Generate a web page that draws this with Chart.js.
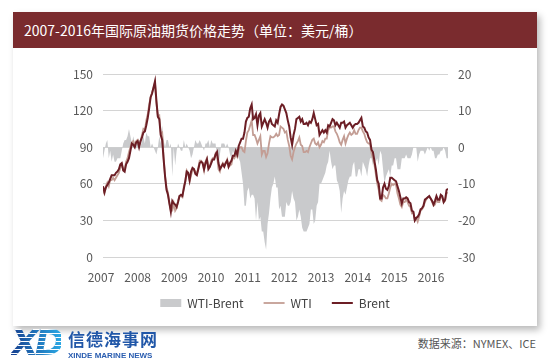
<!DOCTYPE html>
<html>
<head>
<meta charset="utf-8">
<script src="https://cdn.jsdelivr.net/npm/chart.js@4.4.0/dist/chart.umd.min.js"></script>
<style>
  html, body { margin: 0; padding: 0; background: #fff; width: 554px; height: 364px; overflow: hidden;
    font-family: "Noto Sans CJK SC", "Noto Sans", sans-serif; }
  .card { position: absolute; left: 13px; top: 12px; width: 524px; height: 314px; background: #fff;
    box-shadow: 3px 4px 7px rgba(0, 0, 0, 0.28); }
  .title { height: 36px; line-height: 36px; background: #7a2b2e; color: #fff; font-size: 14px; padding-left: 11px; }
  .chart-box { position: relative; width: 524px; height: 278px; }
  .logo-xd { position: absolute; left: 11px; top: 322px; font: italic 900 36px "DejaVu Sans", sans-serif;
    letter-spacing: -4px; color: transparent;
    background: repeating-linear-gradient(180deg, rgba(255,255,255,0) 0 3px, #fff 3px 4px),
                linear-gradient(90deg, #163f8f, #2aa8e4);
    -webkit-background-clip: text; background-clip: text; }
  .logo-cn { position: absolute; left: 68px; top: 326px; font-size: 17px; font-weight: bold; color: #2157a8;
    letter-spacing: 1px; }
  .logo-en { position: absolute; left: 68px; top: 351px; font: bold 8px "Liberation Sans", sans-serif; color: #2a5db0; }
  .source { position: absolute; right: 18px; top: 335px; font-size: 11px; color: #555; }
</style>
</head>
<body>
<div class="card">
  <div class="title">2007-2016年国际原油期货价格走势（单位：美元/桶）</div>
  <div class="chart-box"><canvas id="oilChart"></canvas></div>
</div>
<div class="logo-xd">XD</div>
<div class="logo-cn">信德海事网</div>
<div class="logo-en">XINDE MARINE NEWS</div>
<div class="source">数据来源：NYMEX、ICE</div>

<script>
// half-month readings, Jan 2007 .. Dec 2016 (24 per year)
const brent = [
  58, 53, 57, 59, 61, 64, 67, 67, 67, 69, 70, 72, 76, 77, 71, 70, 76, 78, 81, 87, 93, 92, 90, 94,
  95, 90, 95, 98, 102, 103, 108, 114, 122, 131, 134, 139, 144, 128, 115, 113, 100, 96, 80, 66, 55, 51, 44, 37,
  46, 44, 43, 41, 45, 50, 51, 50, 56, 62, 70, 69, 63, 70, 73, 72, 68, 67, 72, 77, 78, 77, 72, 77,
  80, 72, 74, 77, 80, 80, 84, 86, 77, 72, 74, 76, 74, 77, 79, 74, 77, 79, 83, 83, 87, 84, 91, 94,
  97, 97, 102, 111, 114, 115, 122, 125, 113, 114, 117, 108, 116, 118, 107, 110, 113, 110, 106, 111, 113, 109, 108, 107,
  112, 110, 117, 123, 125, 124, 121, 118, 112, 107, 98, 92, 100, 105, 113, 114, 115, 111, 113, 109, 109, 110, 108, 111,
  110, 113, 118, 113, 108, 109, 100, 102, 104, 102, 104, 102, 108, 107, 110, 113, 112, 108, 110, 108, 106, 110, 110, 111,
  106, 108, 109, 110, 108, 106, 108, 109, 109, 110, 112, 114, 107, 106, 103, 102, 98, 96, 88, 86, 79, 72, 63, 60,
  48, 48, 57, 60, 56, 55, 58, 65, 65, 64, 63, 62, 58, 54, 49, 44, 48, 48, 49, 48, 45, 44, 38, 37,
  30, 32, 33, 35, 39, 40, 42, 47, 48, 49, 50, 48, 46, 43, 46, 50, 47, 47, 51, 50, 45, 47, 55, 56
];

const wti = [
  55, 52, 58, 61, 58, 63, 63, 65, 63, 65, 67, 69, 73, 76, 72, 72, 78, 81, 86, 90, 94, 95, 91, 95,
  96, 91, 95, 100, 105, 104, 112, 117, 125, 131, 135, 139, 143, 126, 115, 116, 101, 102, 82, 66, 57, 53, 44, 38,
  38, 44, 38, 40, 46, 50, 50, 49, 58, 62, 71, 69, 62, 67, 71, 72, 70, 68, 73, 79, 79, 77, 71, 78,
  81, 74, 74, 79, 81, 81, 85, 83, 72, 70, 75, 77, 75, 77, 80, 74, 75, 76, 82, 81, 84, 82, 88, 90,
  90, 87, 86, 95, 102, 104, 108, 112, 100, 100, 97, 93, 96, 99, 84, 87, 87, 82, 85, 93, 99, 98, 98, 99,
  101, 99, 100, 107, 106, 105, 102, 103, 96, 91, 83, 80, 86, 90, 93, 95, 98, 92, 91, 86, 86, 87, 86, 90,
  93, 96, 97, 93, 92, 94, 90, 92, 95, 94, 97, 97, 104, 106, 106, 107, 107, 103, 101, 98, 94, 92, 96, 99,
  93, 97, 100, 102, 100, 101, 104, 101, 101, 104, 106, 106, 103, 101, 97, 94, 93, 93, 85, 81, 76, 68, 60, 55,
  47, 46, 51, 50, 48, 48, 52, 57, 60, 59, 60, 59, 52, 48, 43, 41, 45, 45, 47, 45, 42, 41, 36, 37,
  30, 32, 29, 33, 38, 39, 41, 45, 47, 49, 49, 48, 45, 42, 43, 47, 45, 45, 50, 49, 45, 46, 52, 53
];

const spread = [
  -3, -1, 1, 2, -3, -1, -4, -2, -4, -4, -3, -3, -3, -1, 1, 2, 2, 3, 5, 3, 1, 3, 1, 1,
  1, 1, 0, 2, 3, 1, 4, 3, 3, 0, 1, 0, -1, -2, 0, 3, 1, 6, 2, 0, 2, 2, 0, 1,
  -8, 0, -5, -1, 1, 0, -1, -1, 2, 0, 1, 0, -1, -3, -2, 0, 2, 1, 1, 2, 1, 0, -1, 1,
  1, 2, 0, 2, 1, 1, 1, -3, -5, -2, 1, 1, 1, 0, 1, 0, -2, -3, -1, -2, -3, -2, -3, -4,
  -7, -10, -16, -16, -12, -11, -14, -13, -13, -14, -20, -15, -20, -19, -23, -23, -26, -28, -21, -18, -14, -11, -10, -8,
  -11, -11, -17, -16, -19, -19, -19, -15, -16, -16, -15, -12, -14, -15, -20, -19, -17, -19, -22, -23, -23, -23, -22, -21,
  -17, -17, -21, -20, -16, -15, -10, -10, -9, -8, -7, -5, -4, -1, -4, -6, -5, -5, -9, -10, -12, -18, -14, -12,
  -13, -11, -9, -8, -8, -5, -4, -8, -8, -6, -6, -8, -4, -5, -6, -8, -5, -3, -3, -5, -3, -4, -3, -5,
  -1, -2, -6, -10, -8, -7, -6, -8, -5, -5, -3, -3, -6, -6, -6, -3, -3, -3, -2, -3, -3, -3, -2, 0,
  0, 0, -4, -2, -1, -1, -1, -2, -1, 0, -1, 0, -1, -1, -3, -3, -2, -2, -1, -1, 0, -1, -3, -3
];

const yearLabels = ["2007", "2008", "2009", "2010", "2011", "2012", "2013", "2014", "2015", "2016"];

const startYear = 2007;
const periodsPerYear = 24;
const lastX = startYear + (brent.length - 1) / periodsPerYear;
const labelStep = 1.0586; // year labels sit a little wider than calendar years in the original

const toPoints = (arr) => arr.map((v, i) => ({ x: startYear + i / periodsPerYear, y: v }));

const tickFont = { family: "'Noto Sans CJK SC', 'Noto Sans', sans-serif", size: 12 };

// pull the legend up a little, closer to the year labels
const legendLift = {
  id: "legendLift",
  afterLayout(chart) {
    chart.legend.top -= 7;
    chart.legend.bottom -= 7;
  },
};

const ctx = document.getElementById("oilChart").getContext("2d");

new Chart(ctx, {
  type: "line",
  data: {
    datasets: [
      {
        label: "WTI-Brent",
        data: toPoints(spread),
        yAxisID: "y2",
        fill: "origin",
        backgroundColor: "#c9cacc",
        borderWidth: 0,
        pointRadius: 0,
        pointStyle: "rect",
        tension: 0,
        order: 3,
      },
      {
        label: "WTI",
        data: toPoints(wti),
        yAxisID: "y",
        borderColor: "#c39d94",
        backgroundColor: "#c39d94",
        borderWidth: 1.8,
        pointRadius: 0,
        pointStyle: "line",
        tension: 0,
        order: 2,
      },
      {
        label: "Brent",
        data: toPoints(brent),
        yAxisID: "y",
        borderColor: "#6c1e25",
        backgroundColor: "#6c1e25",
        borderWidth: 2,
        pointRadius: 0,
        pointStyle: "line",
        tension: 0,
        order: 1,
      },
    ],
  },
  plugins: [legendLift],
  options: {
    responsive: true,
    maintainAspectRatio: false,
    animation: false,
    layout: {
      padding: { top: 26, left: 0, right: 0, bottom: 0 },
    },
    plugins: {
      tooltip: { enabled: false },
      legend: {
        position: "bottom",
        labels: {
          usePointStyle: true,
          pointStyleWidth: 21,
          boxHeight: 8,
          padding: 20,
          color: "#404040",
          font: { family: "'Noto Sans CJK SC', 'Noto Sans', sans-serif", size: 12 },
          sort: (a, b) => a.datasetIndex - b.datasetIndex,
        },
      },
    },
    scales: {
      x: {
        type: "linear",
        min: startYear,
        max: lastX,
        grid: { display: false, drawTicks: false },
        border: { display: false },
        afterBuildTicks: (axis) => {
          axis.ticks = yearLabels.map((_, k) => ({ value: startYear + k * labelStep }));
        },
        afterFit: (axis) => {
          axis.height = 27;
        },
        ticks: {
          autoSkip: false,
          maxRotation: 0,
          padding: 13,
          labelOffset: -2,
          color: "#595959",
          font: tickFont,
          callback: (value, index) => yearLabels[index],
        },
      },
      y: {
        position: "left",
        min: 0,
        max: 150,
        grid: { color: "#d4d4d4", lineWidth: 1, drawTicks: false },
        border: { display: false },
        afterFit: (axis) => {
          axis.width = 90;
        },
        ticks: { stepSize: 30, padding: 10, color: "#595959", font: tickFont },
      },
      y2: {
        position: "right",
        min: -30,
        max: 20,
        grid: { display: false, drawTicks: false },
        border: { display: false },
        afterFit: (axis) => {
          axis.width = 89;
        },
        ticks: { stepSize: 10, padding: 10, color: "#595959", font: tickFont },
      },
    },
  },
});
</script>
</body>
</html>
